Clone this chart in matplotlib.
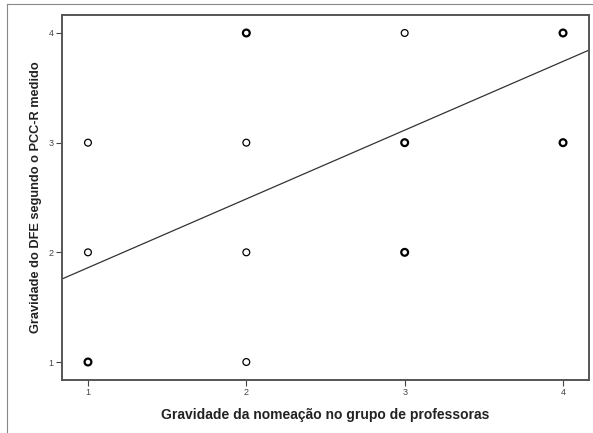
import matplotlib.pyplot as plt
from matplotlib.lines import Line2D

# data (overlapping cases drawn bolder)
x_vals = [1, 1, 1, 2, 2, 2, 2, 3, 3, 3, 4, 4]
y_vals = [1, 2, 3, 1, 2, 3, 4, 2, 3, 4, 3, 4]
counts = [2, 1, 1, 1, 1, 1, 3, 3, 3, 1, 2, 3]
fit_intercept = 1.233
fit_slope = 0.627
ticks = [1, 2, 3, 4]

plt.rcParams['font.family'] = ['Liberation Sans', 'DejaVu Sans']

fig = plt.figure(figsize=(5.93, 4.33), dpi=100)
ax = fig.add_axes([62 / 593, 1 - 380 / 433, 527 / 593, 365 / 433])

lw = [0.9 if c == 1 else 1.6 for c in counts]
ax.scatter(x_vals, y_vals, s=24, facecolors='none', edgecolors='black',
           linewidths=lw, zorder=3)

lo, hi = 0.836, 4.164
ax.plot([lo, hi], [fit_intercept + fit_slope * lo, fit_intercept + fit_slope * hi],
        color='#333333', lw=0.9)

ax.set_xlim(lo, hi)
ax.set_ylim(lo, hi)
ax.set_xticks(ticks)
ax.set_yticks(ticks)
ax.tick_params(direction='out', length=4, width=0.8, labelsize=6.5,
               colors='#444444', pad=2)
for sp in ax.spines.values():
    sp.set_color('#555555')
    sp.set_linewidth(1.4)

ax.set_xlabel('Gravidade da nomeação no grupo de professoras',
              fontsize=10, fontweight='bold', color='#222222', labelpad=8)
ax.set_ylabel('Gravidade do DFE segundo o PCC-R medido',
              fontsize=9.2, fontweight='bold', color='#222222', labelpad=5)

# outer frame (top and left edges of the original image)
fig.add_artist(Line2D([7 / 593, 7 / 593], [0, 1 - 4 / 433], color='#888888',
                      lw=0.8, transform=fig.transFigure))
fig.add_artist(Line2D([7 / 593, 1], [1 - 4 / 433, 1 - 4 / 433], color='#888888',
                      lw=0.8, transform=fig.transFigure))

fig.savefig('out.png', dpi=100)
